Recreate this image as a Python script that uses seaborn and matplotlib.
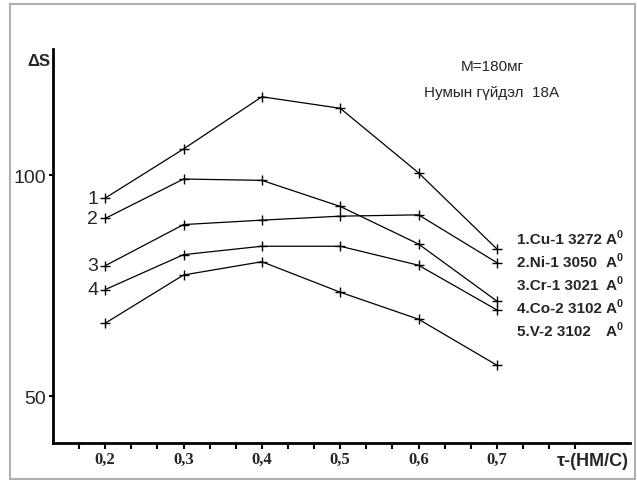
import matplotlib
matplotlib.use("Agg")
import matplotlib.pyplot as plt
from matplotlib.patches import Rectangle
from matplotlib.ticker import MultipleLocator, FixedLocator
import seaborn as sns
import pandas as pd

# values
tau = [0.2, 0.3, 0.4, 0.5, 0.6, 0.7]
cu = [94.8, 105.9, 117.7, 115.1, 100.5, 83.3]
ni = [90.2, 99.1, 98.8, 92.9, 84.4, 71.5]
cr = [79.5, 88.8, 89.8, 90.7, 91.0, 80.2]
co = [74.1, 82.0, 83.9, 83.9, 79.6, 69.5]
v = [66.5, 77.4, 80.4, 73.5, 67.4, 57.0]

series_names = ["Cu", "Ni", "Cr", "Co", "V"]
legend_lines = ["1.Cu-1 3272", "2.Ni-1 3050", "3.Cr-1 3021", "4.Co-2 3102", "5.V-2 3102"]
curve_numbers = ["1", "2", "3", "4"]

df = pd.DataFrame({
    "tau": tau * 5,
    "dS": cu + ni + cr + co + v,
    "element": [n for n in series_names for _ in tau],
})

sns.set_style("white")
plt.rcParams["font.family"] = ["Liberation Sans", "DejaVu Sans"]
plt.rcParams["mathtext.fontset"] = "custom"
plt.rcParams["mathtext.rm"] = "Liberation Sans"
plt.rcParams["mathtext.bf"] = "Liberation Sans:bold"

fig = plt.figure(figsize=(6.37, 4.81), dpi=100)
ax = fig.add_axes([0.0832, 0.0769, 0.9058, 0.8191])

sns.lineplot(data=df, x="tau", y="dS", hue="element", palette=["black"] * 5,
             marker="+", markersize=7, markeredgewidth=1.0,
             markeredgecolor="black", linewidth=0.9,
             legend=False, ax=ax)

ax.set_xlim(0.1333, 0.870)
ax.set_ylim(39.4, 128.5)
ax.set_xlabel("")
ax.set_ylabel("")

for s in ["top", "right"]:
    ax.spines[s].set_visible(False)
for s in ["left", "bottom"]:
    ax.spines[s].set_linewidth(2)
    ax.spines[s].set_color("black")

ax.set_xticks(tau)
ax.set_xticklabels(["0,2", "0,3", "0,4", "0,5", "0,6", "0,7"],
                   fontsize=12, fontweight="bold", family=["Liberation Serif"])
ax.xaxis.set_minor_locator(FixedLocator([0.2 + i / 30 for i in range(-1, 19)]))
ax.tick_params(axis="x", which="both", direction="out", length=4, width=1.5,
               color="black", pad=2, bottom=True)

ax.set_yticks([50, 100])
ax.set_yticklabels(["50", "100"], fontsize=14)
ax.yaxis.set_minor_locator(MultipleLocator(10))
ax.tick_params(axis="y", which="major", direction="out", length=3, width=1.5,
               color="black", left=True, pad=2)
ax.tick_params(axis="y", which="minor", direction="out", length=1, width=0.8,
               color="#cccccc", left=True)

# axis titles
fig.text(27 / 637, 1 - 62 / 481, "ΔS", fontsize=12, fontweight="bold",
         va="center", ha="left")
fig.text(629 / 637, 1 - 462 / 481, "τ-(НМ/С)", fontsize=13, fontweight="bold",
         va="center", ha="right")

# annotation
ax.text(0.6936, 124.7, "M=180мг", fontsize=11, ha="center", va="center")
ax.text(0.6936, 118.8, "Нумын гүйдэл  18А", fontsize=11, ha="center",
        va="center")

# curve numbers on the left
for num, yv in zip(curve_numbers, [cu[0], ni[0], cr[0], co[0]]):
    ax.text(0.191, yv, num, fontsize=14, ha="right", va="center")

# legend text on the right, the A's stand in one column
for i, line in enumerate(legend_lines):
    yv = 85.5 - i * 5.2
    ax.text(0.7256, yv, line, fontsize=11, fontweight="bold",
            ha="left", va="center")
    ax.text(0.8378, yv + 0.4, r"$\mathbf{A}^{\mathbf{0}}$", fontsize=11,
            ha="left", va="center")

fig.patches.append(Rectangle((10 / 637, 1 / 481), 625 / 637, 475 / 481,
                             transform=fig.transFigure, fill=False,
                             edgecolor="#b0b0b0", linewidth=1.5))

fig.savefig("out.png", dpi=100)
